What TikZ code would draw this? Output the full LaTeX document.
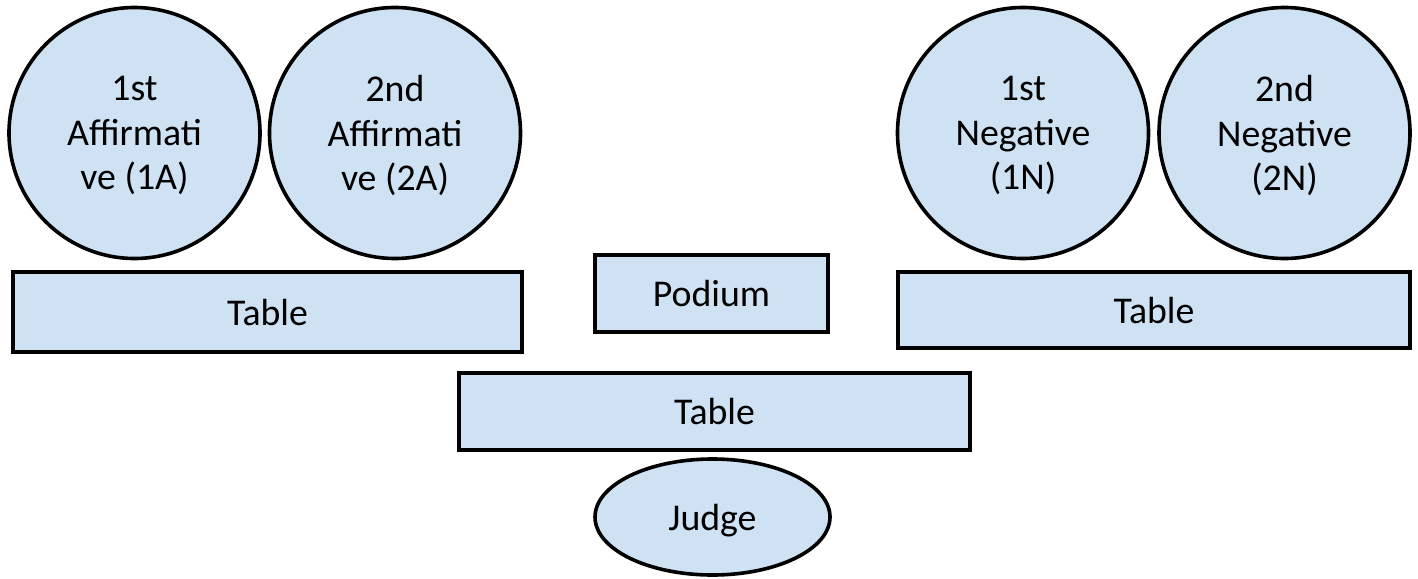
\documentclass[tikz,border=0pt]{standalone}
\usepackage{fontspec}
\setmainfont{Carlito}
\usetikzlibrary{shapes.geometric}
\definecolor{seatblue}{HTML}{CFE2F3}
\tikzset{
  seat/.style={circle,draw,fill=seatblue,line width=1.8pt,minimum size=125.5pt,inner sep=0pt,align=center,text depth=0pt},
  tablebox/.style={rectangle,draw,fill=seatblue,line width=1.8pt,inner sep=0pt,text depth=0pt},
  judgebox/.style={ellipse,draw,fill=seatblue,line width=1.8pt,inner sep=0pt,minimum width=117.5pt,minimum height=58pt,text depth=0pt}
}

\begin{document}
\begin{tikzpicture}[x=0.5pt,y=-0.5pt,font=\fontsize{18.9}{22.2}\selectfont]
  \useasboundingbox (0,0) rectangle (1418,578);
  \node[seat] (a1) at (134.5,133) {1st\\Affirmati\\ve (1A)};
  \node[seat] (a2) at (395,133) {2nd\\Affirmati\\ve (2A)};
  \node[seat] (n1) at (1023,133) {1st\\Negative\\(1N)};
  \node[seat] (n2) at (1284.5,133) {2nd\\Negative\\(2N)};
  \node[tablebox,minimum width=254.5pt,minimum height=40pt] (affTable) at (267.5,312) {Table};
  \node[tablebox,minimum width=116.5pt,minimum height=38.5pt] (podium) at (711.5,293.5) {Podium};
  \node[tablebox,minimum width=256pt,minimum height=38pt] (negTable) at (1154,310) {Table};
  \node[tablebox,minimum width=255.5pt,minimum height=38.5pt] (judgeTable) at (714.5,411.5) {Table};
  \node[judgebox] (judge) at (712.5,517) {Judge};
\end{tikzpicture}
\end{document}
